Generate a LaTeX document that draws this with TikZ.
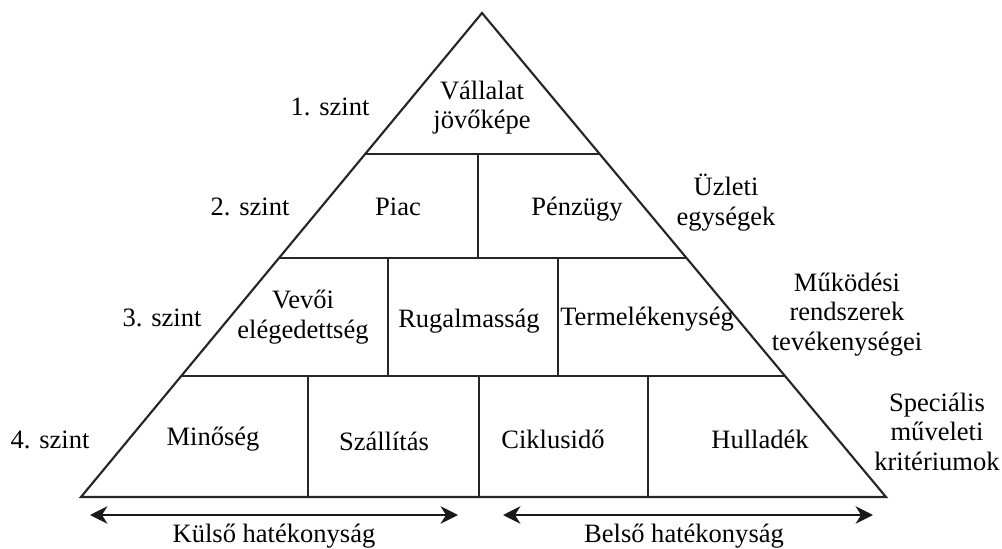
\documentclass[tikz,border=0pt]{standalone}
\usepackage{fontspec}
\setmainfont{Liberation Serif}
\usetikzlibrary{arrows.meta,calc}
\begin{document}
\begin{tikzpicture}[x=0.75pt,y=-0.75pt,
  frame/.style={line width=1.6pt, draw=black!85, line join=miter},
  lbl/.style={font=\fontsize{19.9}{22}\selectfont, inner sep=0pt, anchor=base, align=center},
  spanarrow/.style={line width=1.8pt, draw=black!90,
    {Stealth[length=13pt,width=13pt,inset=4pt]}-{Stealth[length=13pt,width=13pt,inset=4pt]}}]
\useasboundingbox (0,0) rectangle (1002,549);

% pyramid outline
\coordinate (apex) at (482,13);
\coordinate (bl) at (81,497);
\coordinate (br) at (886,497);
\draw[frame] (apex) -- (bl) -- (br) -- cycle;

% level boundaries on the two sides
\coordinate (l1) at ($(apex)!0.2913!(bl)$);
\coordinate (r1) at ($(apex)!0.2913!(br)$);
\coordinate (l2) at ($(apex)!0.5062!(bl)$);
\coordinate (r2) at ($(apex)!0.5062!(br)$);
\coordinate (l3) at ($(apex)!0.75!(bl)$);
\coordinate (r3) at ($(apex)!0.75!(br)$);
\draw[frame] (l1) -- (r1);
\draw[frame] (l2) -- (r2);
\draw[frame] (l3) -- (r3);

% cell dividers
\draw[frame] (478,154) -- (478,258);
\draw[frame] (388,258) -- (388,376);
\draw[frame] (558,258) -- (558,376);
\draw[frame] (308,376) -- (308,497);
\draw[frame] (479,376) -- (479,497);
\draw[frame] (648,376) -- (648,497);

% cell texts (multi-line nodes sit on the baseline of their last line)
\node[lbl] (vision) at (482,129) {Vállalat\\jövőképe};
\node[lbl] (market) at (398,215) {Piac};
\node[lbl] (finance) at (577,215) {Pénzügy};
\node[lbl] (customer) at (303,338) {Vevői\\elégedettség};
\node[lbl] (flex) at (469,327) {Rugalmasság};
\node[lbl] (product) at (647,325) {Termelékenység};
\node[lbl] (quality) at (213,445) {Minőség};
\node[lbl] (delivery) at (384,450) {Szállítás};
\node[lbl] (cycle) at (553,448) {Ciklusidő};
\node[lbl] (waste) at (760,448) {Hulladék};

% level names on the left
\node[lbl] (lev1) at (330,116) {1. szint};
\node[lbl] (lev2) at (250,215) {2. szint};
\node[lbl] (lev3) at (162,326) {3. szint};
\node[lbl] (lev4) at (50,448) {4. szint};

% descriptions on the right
\node[lbl] (units) at (726,225) {Üzleti\\egységek};
\node[lbl] (ops) at (847,350) {Működési\\rendszerek\\tevékenységei};
\node[lbl] (crit) at (937,470) {Speciális\\műveleti\\kritériumok};

% efficiency spans under the base
\coordinate (ea) at (90,515);
\coordinate (eb) at (458,515);
\coordinate (ia) at (503,515);
\coordinate (ib) at (873,515);
\draw[spanarrow] (ea) -- (eb);
\draw[spanarrow] (ia) -- (ib);
\node[lbl] (ext) at (274,542) {Külső hatékonyság};
\node[lbl] (int) at (684,542) {Belső hatékonyság};
\end{tikzpicture}
\end{document}
